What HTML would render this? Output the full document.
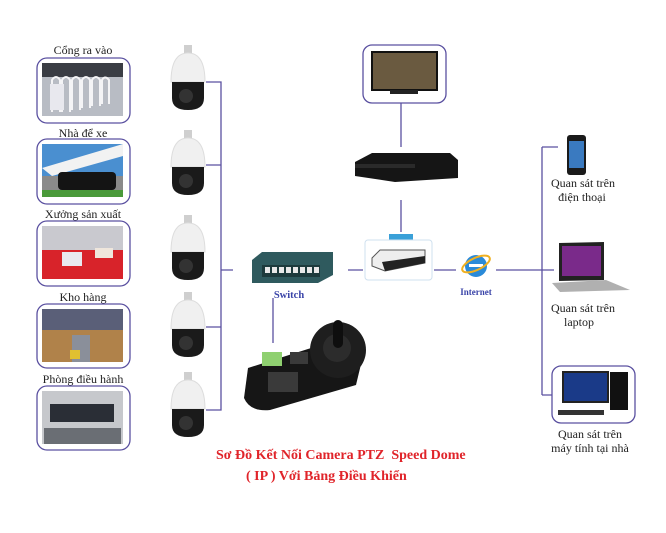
<!DOCTYPE html>
<html><head><meta charset="utf-8"><style>
html,body{margin:0;padding:0;background:#fff;}
svg{display:block}
text{font-family:"Liberation Serif",serif;}
</style></head><body>
<svg width="666" height="533" viewBox="0 0 666 533" xmlns="http://www.w3.org/2000/svg">
<rect width="666" height="533" fill="#fff"/>
<g font-size="12" fill="#222" text-anchor="middle">
<text x="83" y="54">Cổng ra vào</text>
<text x="83" y="137">Nhà để xe</text>
<text x="83" y="218">Xưởng sản xuất</text>
<text x="83" y="301">Kho hàng</text>
<text x="83" y="383">Phòng điều hành</text>
</g>
<g stroke="#5a50a0" stroke-width="1.3" fill="#fff">
<rect x="37" y="58" width="93" height="65" rx="10"/>
<rect x="37" y="139" width="93" height="65" rx="10"/>
<rect x="37" y="221" width="93" height="65" rx="10"/>
<rect x="37" y="304" width="93" height="64" rx="10"/>
<rect x="37" y="386" width="93" height="64" rx="10"/>
</g>
<rect x="42" y="63" width="81" height="53" fill="#b8bcc4"/>
<rect x="42" y="63" width="81" height="14" fill="#3a3d44"/>
<g stroke="#f4f4f6" stroke-width="2" fill="none">
<path d="M52 112V80q4-6 8 0v32M62 112V80q4-6 8 0v32M72 110V80q4-6 8 0v30M82 108V80q4-6 8 0v28M92 106V80q4-6 8 0v26M102 104V80q3-5 7 0v24"/>
</g>
<rect x="50" y="84" width="14" height="26" fill="#e8e8ee"/>
<rect x="42" y="144" width="81" height="53" fill="#4a8fd0"/>
<polygon points="42,168 123,144 123,156 52,176" fill="#f2f2f2"/>
<rect x="42" y="176" width="81" height="21" fill="#8a8a8a"/>
<rect x="58" y="172" width="58" height="18" rx="4" fill="#141414"/>
<rect x="42" y="190" width="81" height="7" fill="#4a9a3a"/>
<rect x="42" y="226" width="81" height="53" fill="#c9c9cf"/>
<rect x="42" y="250" width="81" height="29" fill="#d8232a"/>
<rect x="62" y="252" width="20" height="14" fill="#e9e9ef"/>
<rect x="95" y="248" width="18" height="10" fill="#efe6dc"/>
<rect x="42" y="309" width="81" height="53" fill="#5a5f78"/>
<rect x="42" y="330" width="81" height="32" fill="#b0824a"/>
<rect x="72" y="335" width="18" height="27" fill="#8a8f9a"/>
<rect x="70" y="350" width="10" height="9" fill="#e0c030"/>
<rect x="42" y="391" width="81" height="53" fill="#c6c8cc"/>
<rect x="50" y="404" width="64" height="18" fill="#2a2e36"/>
<rect x="44" y="428" width="77" height="16" fill="#6a6e74"/>
<g id="cam">
<rect x="184" y="45" width="8" height="9" fill="#cfcfcf"/>
<path d="M171 82 Q171 53 188 53 Q205 53 205 82 Z" fill="#f0f0f0" stroke="#ddd"/>
<path d="M172 82 H204 V98 Q204 110 188 110 Q172 110 172 98 Z" fill="#1a1a1a"/>
<circle cx="186" cy="96" r="7" fill="#333"/>
</g>
<use href="#cam" y="85"/>
<use href="#cam" y="170"/>
<use href="#cam" y="247"/>
<use href="#cam" y="327"/>
<g stroke="#5a50a0" stroke-width="1.3" fill="none">
<path d="M206 82H221V410H206M206 165H221M206 327H221M221 270H233"/>
<path d="M348 270H363M401 200V232M401 103V147M434 270H456M496 270H554M542 147V395M542 147H558M542 395H552M273 298V343"/>
</g>
<polygon points="252,260 262,252 333,252 333,275 318,283 252,283" fill="#2f5a5e"/>
<rect x="262" y="265" width="58" height="12" fill="#1d3a3c"/>
<g fill="#e8e8e8"><rect x="265" y="267" width="5" height="6"/><rect x="272" y="267" width="5" height="6"/><rect x="279" y="267" width="5" height="6"/><rect x="286" y="267" width="5" height="6"/><rect x="293" y="267" width="5" height="6"/><rect x="300" y="267" width="5" height="6"/><rect x="307" y="267" width="5" height="6"/><rect x="314" y="267" width="5" height="6"/></g>
<text x="289" y="298" font-size="10.5" font-weight="bold" fill="#3a44a8" text-anchor="middle">Switch</text>
<rect x="389" y="234" width="24" height="6" fill="#3aa0d8"/>
<rect x="365" y="240" width="67" height="40" rx="3" fill="#fff" stroke="#cfe0ef"/>
<polygon points="372,258 380,250 425,250 425,263 385,271 372,266" fill="#eee" stroke="#555"/>
<polygon points="382,262 425,256 425,263 385,271" fill="#222"/>
<rect x="363" y="45" width="83" height="58" rx="9" fill="#fff" stroke="#5a50a0" stroke-width="1.3"/>
<rect x="372" y="52" width="65" height="38" fill="#6a5a40" stroke="#111" stroke-width="2"/>
<rect x="390" y="90" width="28" height="4" fill="#222"/>
<polygon points="355,162 372,153 450,153 458,160 458,178 395,182 355,176" fill="#151515"/>
<rect x="355" y="164" width="60" height="4" fill="#2a2a2a"/>
<circle cx="476" cy="266" r="11" fill="#2a8ad8"/>
<rect x="469" y="264" width="14" height="3" fill="#fff"/>
<ellipse cx="476" cy="264" rx="15" ry="6" fill="none" stroke="#f0b020" stroke-width="2" transform="rotate(-25 476 264)"/>
<text x="476" y="295" font-size="9" font-weight="bold" fill="#3a44a8" text-anchor="middle">Internet</text>
<rect x="567" y="135" width="19" height="40" rx="3" fill="#1a1a1a"/>
<rect x="569" y="141" width="15" height="27" fill="#3a7ac0"/>
<polygon points="559,243 604,242 604,280 559,281" fill="#222"/>
<rect x="562" y="246" width="39" height="30" fill="#7a2a8a"/>
<polygon points="552,283 606,280 630,290 560,292" fill="#b0b0b0"/>
<rect x="552" y="366" width="83" height="57" rx="9" fill="#fff" stroke="#5a50a0" stroke-width="1.3"/>
<rect x="563" y="372" width="45" height="30" fill="#1a3a88" stroke="#222" stroke-width="2"/>
<rect x="610" y="372" width="18" height="38" fill="#111"/>
<rect x="558" y="410" width="46" height="5" fill="#333"/>
<g font-size="12" fill="#222" text-anchor="middle">
<text x="583" y="187">Quan sát trên</text>
<text x="582" y="201">điện thoại</text>
<text x="583" y="312">Quan sát trên</text>
<text x="579" y="326">laptop</text>
<text x="590" y="438">Quan sát trên</text>
<text x="590" y="452">máy tính tại nhà</text>
</g>
<!-- keyboard -->
<path d="M248 368 L330 342 L362 360 L356 385 L270 410 Q250 412 244 398 Z" fill="#161616"/>
<circle cx="338" cy="350" r="28" fill="#1e1e1e"/>
<circle cx="337" cy="348" r="14" fill="#2c2c2c"/>
<rect x="333" y="320" width="10" height="28" rx="5" fill="#0e0e0e"/>
<rect x="262" y="352" width="20" height="14" fill="#8fd070"/>
<g fill="#3a3a3a"><rect x="268" y="372" width="30" height="20"/><rect x="290" y="352" width="18" height="12"/></g>
<g font-weight="bold" fill="#e0242a" font-size="14">
<text x="216" y="459">Sơ Đồ Kết Nối Camera PTZ &#160;Speed Dome</text>
<text x="246" y="480">( IP ) Với Bảng Điều Khiển</text>
</g>
</svg>
</body></html>
